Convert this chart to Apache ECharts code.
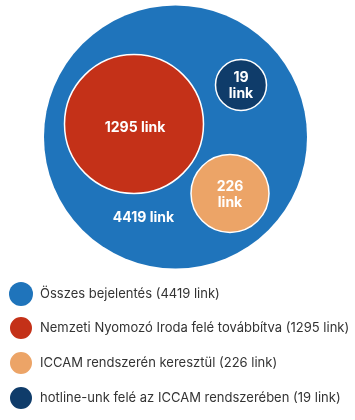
<!DOCTYPE html>
<html>
<head>
<meta charset="utf-8">
<script src="https://cdn.jsdelivr.net/npm/echarts@6/dist/echarts.min.js"></script>
<style>
  html, body { margin: 0; padding: 0; background: #fff; }
  #chart { width: 355px; height: 420px; }
</style>
</head>
<body>
<div id="chart"></div>
<script>
const names = [
  'Összes bejelentés (4419 link)',
  'Nemzeti Nyomozó Iroda felé továbbítva (1295 link)',
  'ICCAM rendszerén keresztül (226 link)',
  'hotline-unk felé az ICCAM rendszerében (19 link)'
];
const values = [4419, 1295, 226, 19];
const bubbleLabels = ['4419 link', '1295 link', '226\nlink', '19\nlink'];

// layout of the bubbles (pixel space of the chart), kept apart from the data
const centers = [[175.5, 137], [134, 124], [230, 193.5], [241, 85]];
const diameters = [263, 139, 78, 51];
const labelOffsets = [[-32, 81], [1, 4], [0, 1], [0, 1]];
const colors = ['#1f74bb', '#c43118', '#eca467', '#0f3c6a'];

const chart = echarts.init(document.getElementById('chart'));

const series = names.map((name, i) => ({
  name,
  type: 'scatter',
  symbol: 'circle',
  symbolSize: diameters[i],
  data: [[centers[i][0], centers[i][1], values[i]]],
  itemStyle: {
    color: colors[i],
    opacity: 1,
    borderColor: '#fff',
    borderWidth: i === 0 ? 0 : 1.5
  },
  label: {
    show: true,
    position: 'inside',
    offset: labelOffsets[i],
    formatter: () => bubbleLabels[i],
    color: '#fff',
    fontFamily: 'Inter, "Noto Sans", sans-serif',
    fontWeight: 'bold',
    fontSize: 14,
    lineHeight: 16
  },
  emphasis: { disabled: true },
  z: 2 + i
}));

chart.setOption({
  animation: false,
  grid: { left: 0, right: 0, top: 0, bottom: 0 },
  xAxis: { type: 'value', min: 0, max: 355, show: false },
  yAxis: { type: 'value', min: 0, max: 420, inverse: true, show: false },
  legend: {
    type: 'plain',
    orient: 'vertical',
    left: 3,
    top: 277,
    height: 140,
    itemWidth: 24,
    itemHeight: 24,
    itemGap: 9,
    icon: 'circle',
    data: names,
    textStyle: {
      color: '#333',
      fontFamily: 'Inter, "Noto Sans", sans-serif',
      fontSize: 13,
      padding: [0, 0, 0, 2]
    },
    selectedMode: false
  },
  series
});
</script>
</body>
</html>
